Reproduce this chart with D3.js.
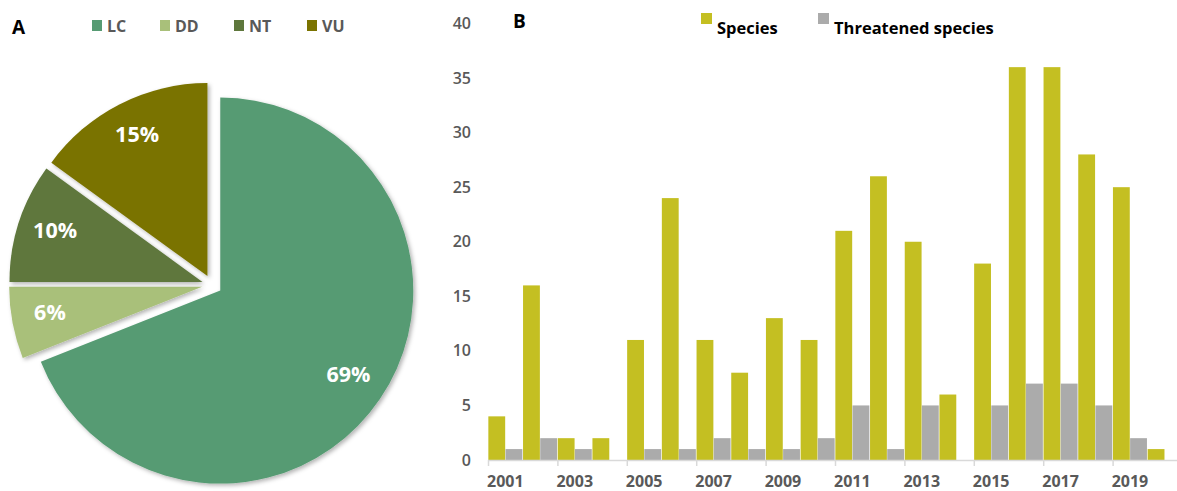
<!DOCTYPE html>
<html><head><meta charset="utf-8">
<script src="https://cdn.jsdelivr.net/npm/d3@7"></script>
<style>
html,body{margin:0;padding:0;background:#fff;}
svg{display:block;font-family:"Open Sans",sans-serif;}
</style></head>
<body>
<svg id="c" width="1177" height="491"></svg>
<script>
// ---- Pie data (panel A)
const pieCategories = ["LC","DD","NT","VU"];
const pieValues = [69, 6, 10, 15];
const pieColors = ["#569B73","#A9C07A","#5E773C","#7A7300"];

// ---- Bar data (panel B)
const years = ["2001","2002","2003","2004","2005","2006","2007","2008","2009","2010",
               "2011","2012","2013","2014","2015","2016","2017","2018","2019","2020"];
const speciesValues    = [4,16,2,2,11,24,11,8,13,11,21,26,20,6,18,36,36,28,25,1];
const threatenedValues = [1,2,1,0,1,1,2,1,1,2,5,1,5,0,5,7,7,5,2,0];
const seriesNames = ["Species","Threatened species"];
const seriesColors = ["#C4BF22","#ABABAB"];
const yTicks = [0,5,10,15,20,25,30,35,40];
const xTickLabels = ["2001","2003","2005","2007","2009","2011","2013","2015","2017","2019"];

const svg = d3.select("#c");
const defs = svg.append("defs");
const f = defs.append("filter").attr("id","sh").attr("x","-20%").attr("y","-20%").attr("width","140%").attr("height","140%");
f.append("feDropShadow").attr("dx",2).attr("dy",2).attr("stdDeviation",2).attr("flood-color","#000").attr("flood-opacity",0.3);

// ================= Panel A =================
const A = svg.append("g");
A.append("text").attr("x",12).attr("y",34).text("A")
  .attr("font-size",19).attr("font-weight","bold").attr("fill","#000");

const legA = A.append("g");
const legAx = [92,160,234,307];
pieCategories.forEach((c,i)=>{
  legA.append("rect").attr("x",legAx[i]).attr("y",20).attr("width",10).attr("height",11).attr("fill",pieColors[i]);
  legA.append("text").attr("x",legAx[i]+15).attr("y",31.5).text(c)
    .attr("font-size",16).attr("font-weight","bold").attr("fill","#595959");
});

const cx = 212, cy = 285, R = 193, explode = 10;
const pie = d3.pie().sort(null).startAngle(0).endAngle(2*Math.PI)(pieValues);
const arc = d3.arc().innerRadius(0).outerRadius(R);
const labelArc = d3.arc().innerRadius(155).outerRadius(155);
const pg = A.append("g").attr("transform",`translate(${cx},${cy})`);
const slices = pg.selectAll("g.s").data(pie).enter().append("g").attr("class","s")
  .attr("transform", d=>{
    const a=(d.startAngle+d.endAngle)/2;
    return `translate(${Math.sin(a)*explode},${-Math.cos(a)*explode})`;
  });
slices.append("path").attr("d",arc).attr("fill",(d,i)=>pieColors[i]).attr("filter","url(#sh)");
slices.append("text")
  .attr("transform",d=>`translate(${labelArc.centroid(d)})`)
  .attr("text-anchor","middle").attr("dy","0.2em")
  .attr("fill","#fff").attr("font-size",21.5).attr("font-weight","bold")
  .text((d,i)=>pieValues[i]+"%");

// ================= Panel B =================
const B = svg.append("g");
const x0 = 488, x1 = 1182, yBase = 460, yTop = 23.5;
const x = d3.scaleBand().domain(years).range([x0,x1]).paddingInner(0).paddingOuter(0);
const xs = d3.scaleBand().domain(seriesNames).range([0,x.bandwidth()]).paddingInner(0.02).paddingOuter(0.02);
const y = d3.scaleLinear().domain([0,40]).range([yBase,yTop]);

B.append("text").attr("x",513).attr("y",28).text("B")
  .attr("font-size",19).attr("font-weight","bold").attr("fill","#000");

// y labels
B.selectAll("text.yl").data(yTicks).enter().append("text").attr("class","yl")
  .attr("x",471).attr("y",d=>y(d)).attr("dy","0.35em").attr("text-anchor","end")
  .attr("font-size",16).attr("font-weight",600).attr("fill","#595959").text(d=>d);

// bars
const data = years.map((yr,i)=>({yr, vals:[speciesValues[i],threatenedValues[i]]}));
const bg = B.selectAll("g.cat").data(data).enter().append("g").attr("class","cat")
  .attr("transform",d=>`translate(${x(d.yr)},0)`);
bg.selectAll("rect").data(d=>d.vals.map((v,j)=>({v,j}))).enter().append("rect")
  .attr("x",d=>xs(seriesNames[d.j])).attr("width",xs.bandwidth())
  .attr("y",d=>y(d.v)).attr("height",d=>yBase-y(d.v))
  .attr("fill",d=>seriesColors[d.j]);

// x axis line & ticks
B.append("line").attr("x1",x0).attr("x2",x1).attr("y1",yBase+0.5).attr("y2",yBase+0.5)
  .attr("stroke","#D9D9D9").attr("stroke-width",1.5);
const tickYears = years.filter((d,i)=>i%2===0);
B.selectAll("line.tk").data(tickYears).enter().append("line").attr("class","tk")
  .attr("x1",d=>x(d)+0.5).attr("x2",d=>x(d)+0.5).attr("y1",yBase).attr("y2",yBase+6)
  .attr("stroke","#D9D9D9").attr("stroke-width",1.5);
B.selectAll("text.xl").data(xTickLabels).enter().append("text").attr("class","xl")
  .attr("x",d=>x(d)+x.bandwidth()/2).attr("y",487).attr("text-anchor","middle")
  .attr("font-size",16).attr("font-weight","bold").attr("fill","#595959").text(d=>d);

// legend B
const legBx = [701,818];
seriesNames.forEach((s,i)=>{
  B.append("rect").attr("x",legBx[i]).attr("y",13).attr("width",11).attr("height",11).attr("fill",seriesColors[i]);
  B.append("text").attr("x",legBx[i]+16).attr("y",34).text(s)
    .attr("font-size",16.5).attr("font-weight","bold").attr("fill","#000");
});
</script>
</body></html>
